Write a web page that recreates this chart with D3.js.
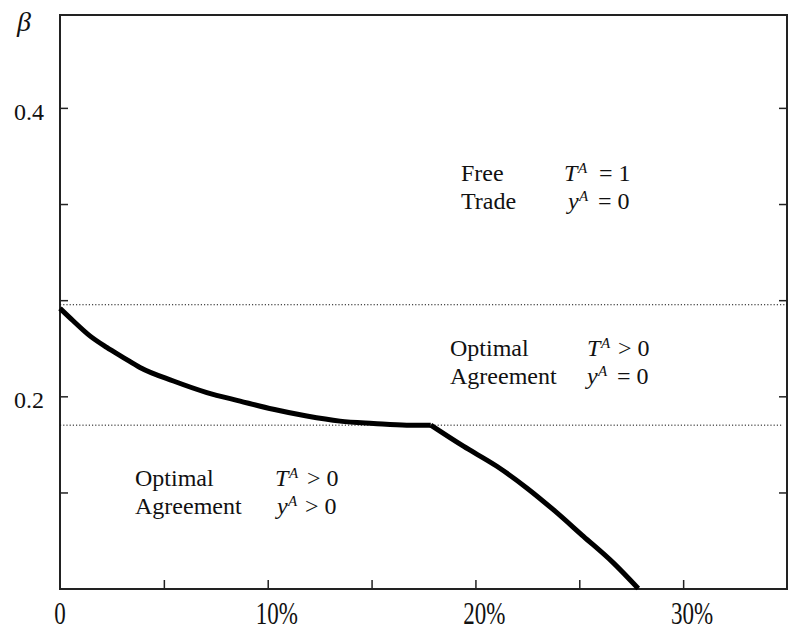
<!DOCTYPE html>
<html>
<head>
<meta charset="utf-8">
<script src="https://cdn.jsdelivr.net/npm/d3@7"></script>
<style>
  body { margin: 0; background: #fff; }
  svg { display: block; }
  text { font-family: "Liberation Serif", "Times New Roman", Times, serif; fill: #111; }
</style>
</head>
<body>
<script>
// boundary curve: tariff share (%) vs beta
const shareX = [0, 0.63, 1.44, 2.25, 3.05, 3.85, 5.46, 7.07, 8.67, 10.27, 11.88, 13.48, 15.09, 16.69, 17.85,
                19.42, 21.03, 22.47, 23.75, 25.2, 26.64, 27.84];
const betaY  = [0.261, 0.2524, 0.2419, 0.2339, 0.2269, 0.22, 0.2106, 0.2026, 0.1967, 0.191, 0.1863, 0.1828, 0.1812, 0.18, 0.18,
                0.1654, 0.1515, 0.1365, 0.1214, 0.1029, 0.0845, 0.0667];
const kinkIndex = 14;
// dotted reference levels
const refLevels = [0.2635, 0.18];
// ticks
const xTicks = [5, 10, 15, 20, 25, 30];
const xLabels = [0, 10, 20, 30];
const yTicks = [2 / 15, 3 / 15, 4 / 15, 5 / 15, 6 / 15];
const yLabels = [0.2, 0.4];

const w = 789, h = 631;
const mLeft = 60, mRight = 787, mTop = 15, mBottom = 589;

const svg = d3.select("body").append("svg")
  .attr("width", w)
  .attr("height", h);

const x = d3.scaleLinear().domain([0, 35]).range([mLeft, mRight]);
const y = d3.scaleLinear().domain([0.0664, 0.4644]).range([mBottom, mTop]);

// inward ticks
svg.append("g")
  .attr("transform", `translate(0,${mBottom})`)
  .call(d3.axisBottom(x).tickValues(xTicks).tickSize(-9).tickFormat(""))
  .call(g => g.select(".domain").remove());
svg.append("g")
  .attr("transform", `translate(${mLeft},0)`)
  .call(d3.axisLeft(y).tickValues(yTicks).tickSize(-8).tickFormat(""))
  .call(g => g.select(".domain").remove());
svg.append("g")
  .attr("transform", `translate(${mRight},0)`)
  .call(d3.axisRight(y).tickValues(yTicks).tickSize(-8).tickFormat(""))
  .call(g => g.select(".domain").remove());
svg.selectAll(".tick line").attr("stroke", "#222").attr("stroke-width", 1.5);

// frame
svg.append("rect")
  .attr("x", mLeft).attr("y", mTop)
  .attr("width", mRight - mLeft).attr("height", mBottom - mTop)
  .attr("fill", "none").attr("stroke", "#222").attr("stroke-width", 2);

// x labels (a bit stretched vertically like the original)
svg.selectAll(".xl")
  .data(xLabels)
  .enter()
  .append("text")
  .attr("class", "xl")
  .attr("text-anchor", "middle")
  .attr("font-size", 23)
  .attr("transform", d => `translate(${x(d) + (d ? 9 : 0)},624) scale(1,1.35)`)
  .text(d => d ? d + "%" : "0");

// y labels
svg.selectAll(".yl")
  .data(yLabels)
  .enter()
  .append("text")
  .attr("class", "yl")
  .attr("text-anchor", "end")
  .attr("font-size", 24)
  .attr("x", 44)
  .attr("y", d => y(d) + 12)
  .text(d => d.toFixed(1));

svg.append("text")
  .attr("x", 17).attr("y", 31)
  .attr("font-size", 28)
  .attr("font-style", "italic")
  .text("β");

// dotted levels
svg.selectAll(".ref")
  .data(refLevels)
  .enter()
  .append("line")
  .attr("x1", mLeft)
  .attr("x2", (d, i) => i ? mRight - 4 : mRight)
  .attr("y1", d => y(d))
  .attr("y2", d => y(d))
  .attr("stroke", "#111")
  .attr("stroke-width", 1)
  .attr("stroke-dasharray", "1.2,2");

// boundary curve, drawn in two pieces so the kink stays sharp
const pts = shareX.map((d, i) => [d, betaY[i]]);
const line = d3.line().x(d => x(d[0])).y(d => y(d[1])).curve(d3.curveMonotoneX);
[pts.slice(0, kinkIndex + 1), pts.slice(kinkIndex)].forEach(seg => {
  svg.append("path")
    .datum(seg)
    .attr("fill", "none")
    .attr("stroke", "#000")
    .attr("stroke-width", 5)
    .attr("stroke-linecap", "butt")
    .attr("d", line);
});

// region annotations
function note(x0, y0, word1, word2, mx, op1, val1, op1x, yx, op2, val2, op2x) {
  const g = svg.append("g").attr("font-size", 24);
  g.append("text").attr("x", x0).attr("y", y0).text(word1);
  g.append("text").attr("x", x0).attr("y", y0 + 28).text(word2);
  g.append("text").attr("x", mx).attr("y", y0).attr("font-style", "italic").text("T");
  g.append("text").attr("x", mx + 14).attr("y", y0 - 8).attr("font-style", "italic").attr("font-size", 15).text("A");
  g.append("text").attr("x", mx + op1x).attr("y", y0).text(op1 + " " + val1);
  g.append("text").attr("x", mx + yx).attr("y", y0 + 28).attr("font-style", "italic").text("y");
  g.append("text").attr("x", mx + yx + 11).attr("y", y0 + 20).attr("font-style", "italic").attr("font-size", 15).text("A");
  g.append("text").attr("x", mx + op2x).attr("y", y0 + 28).text(op2 + " " + val2);
}
note(461, 181, "Free", "Trade", 564, "=", "1", 35, 4, "=", "0", 34);
note(450, 356, "Optimal", "Agreement", 587, ">", "0", 31, 0, "=", "0", 30);
note(135, 486, "Optimal", "Agreement", 275, ">", "0", 32, 2, ">", "0", 30);
</script>
</body>
</html>
